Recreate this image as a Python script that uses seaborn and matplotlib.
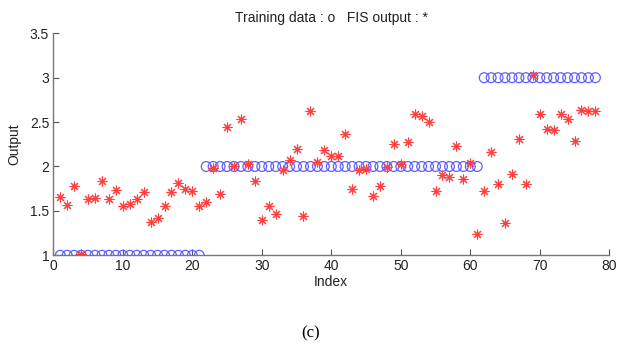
import numpy as np
import pandas as pd
import matplotlib
matplotlib.use('Agg')
import matplotlib.pyplot as plt
from matplotlib.ticker import FuncFormatter
import seaborn as sns

# training data targets (o) and FIS output (*) for each sample index
index = list(range(1, 79))
training = [1, 1, 1, 1, 1, 1, 1, 1, 1, 1,
            1, 1, 1, 1, 1, 1, 1, 1, 1, 1,
            1, 2, 2, 2, 2, 2, 2, 2, 2, 2,
            2, 2, 2, 2, 2, 2, 2, 2, 2, 2,
            2, 2, 2, 2, 2, 2, 2, 2, 2, 2,
            2, 2, 2, 2, 2, 2, 2, 2, 2, 2,
            2, 3, 3, 3, 3, 3, 3, 3, 3, 3,
            3, 3, 3, 3, 3, 3, 3, 3]
fis_output = [1.66, 1.57, 1.78, 1.01, 1.63, 1.65, 1.84, 1.63, 1.74, 1.56,
              1.58, 1.63, 1.71, 1.37, 1.42, 1.56, 1.71, 1.81, 1.75, 1.72,
              1.56, 1.60, 1.98, 1.69, 2.44, 2.01, 2.53, 2.03, 1.84, 1.40,
              1.56, 1.47, 1.96, 2.07, 2.20, 1.44, 2.62, 2.05, 2.19, 2.12,
              2.12, 2.37, 1.75, 1.96, 1.97, 1.67, 1.78, 1.99, 2.25, 2.03,
              2.28, 2.59, 2.57, 2.50, 1.72, 1.90, 1.88, 2.23, 1.86, 2.04,
              1.24, 1.72, 2.16, 1.80, 1.36, 1.91, 2.31, 1.80, 3.03, 2.59,
              2.42, 2.41, 2.59, 2.53, 2.29, 2.64, 2.63, 2.63]

df = pd.DataFrame({'Index': index, 'training': training, 'fis': fis_output})

sns.set_style('ticks')
plt.rcParams['font.family'] = ['Liberation Sans', 'DejaVu Sans']
plt.rcParams['xtick.direction'] = 'in'
plt.rcParams['ytick.direction'] = 'in'

fig, ax = plt.subplots(figsize=(6.17, 3.49), dpi=100)
fig.set_facecolor('white')
fig.subplots_adjust(left=0.0864, right=0.9875, top=0.9046, bottom=0.2685)

sns.scatterplot(data=df, x='Index', y='training', ax=ax, marker='o', s=50,
                facecolor='none', edgecolor='#6060ff', linewidth=0.9, zorder=2)
sns.scatterplot(data=df, x='Index', y='fis', ax=ax, marker=(8, 2, 0), s=42,
                color='#ff4040', edgecolor='#ff4040', linewidth=0.8, zorder=3)

ax.set_xlim(0, 80)
ax.set_ylim(1, 3.5)
ax.set_xticks(np.arange(0, 81, 10))
ax.set_yticks(np.arange(1, 3.51, 0.5))
ax.yaxis.set_major_formatter(FuncFormatter(lambda v, p: '%g' % v))
ax.tick_params(length=4, width=0.8, color='#555555', labelsize=10, labelcolor='#222222', pad=3)
sns.despine(ax=ax)
for s in ['left', 'bottom']:
    ax.spines[s].set_color('#777777')
    ax.spines[s].set_linewidth(1.0)

ax.set_title('Training data : o   FIS output : *', fontsize=10, color='#222222', pad=8)
ax.set_xlabel('Index', fontsize=10, color='#222222', labelpad=1)
ax.set_ylabel('Output', fontsize=10, color='#222222', labelpad=6)

fig.text(311 / 617, 1 - 333 / 349, '(c)', family='Liberation Serif', fontsize=12,
         ha='center', va='center', color='black')

plt.savefig('out.png', dpi=100)
